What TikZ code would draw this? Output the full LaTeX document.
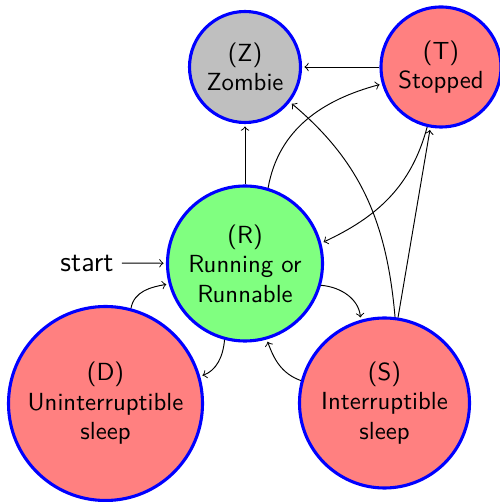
\documentclass[tikz,border=0pt]{standalone}
\begin{document}
\begin{tikzpicture}[x=0.42pt,y=0.42pt,
  state/.style={circle,draw=blue,line width=1.3pt,inner sep=0pt,align=center,font=\sffamily\fontsize{10.4}{12.4}\selectfont},
  edge/.style={->,line width=0.4pt,shorten >=1pt}]
\useasboundingbox (0,0) rectangle (500,502);
\node[state,fill=black!25,minimum size=111*0.42pt] (Z) at (245,435) {(Z)\\Zombie};
\node[state,fill=red!50,minimum size=120*0.42pt] (T) at (441,435) {(T)\\Stopped};
\node[state,fill=green!50,minimum size=155*0.42pt] (R) at (245,238.5) {(R)\\Running or\\Runnable};
\node[state,fill=red!50,minimum size=194*0.42pt] (D) at (105.5,98.5) {(D)\\Uninterruptible\\sleep};
\node[state,fill=red!50,minimum size=170*0.42pt] (S) at (384.5,99) {(S)\\Interruptible\\sleep};
\node[font=\sffamily\large] (start) at (87,239) {start};
\draw[edge] (start) -- (R);
\draw[edge] (T) -- (Z);
\draw[edge] (R) -- (Z);
\draw[edge] (R.73) to[out=80,in=195] (T.196);
\draw[edge] (S.83) to[out=95,in=-40] (Z.-38);
\draw[edge] (T.257) to[out=255,in=25] (R.15);
\draw[edge] (S.81) -- (T.260);
\draw[edge] (R.-16) to[out=-5,in=95] (S.106);
\draw[edge] (S.165) to[out=160,in=-70] (R.-74);
\draw[edge] (R.-105) to[out=-95,in=20] (D.16);
\draw[edge] (D.75) to[out=80,in=190] (R.195);
\end{tikzpicture}
\end{document}
